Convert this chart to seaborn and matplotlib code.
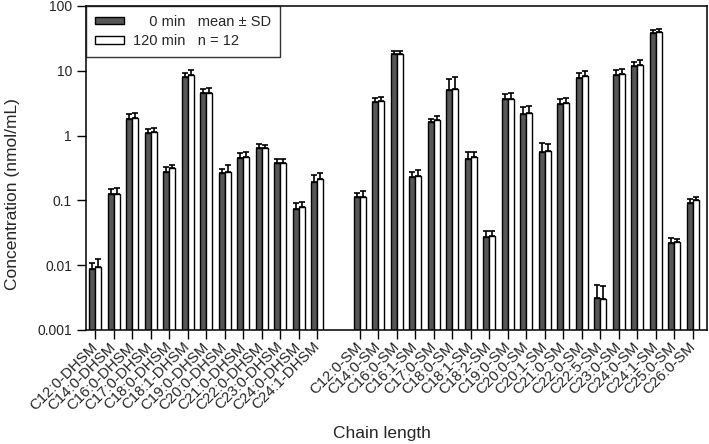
"""Sphingomyelin / dihydrosphingomyelin species at 0 and 120 min."""

import matplotlib.pyplot as plt
import numpy as np
import pandas as pd
import seaborn as sns
from matplotlib.patches import Patch

DHSM_SPECIES = ["C12:0", "C14:0", "C16:0", "C17:0", "C18:0", "C18:1", "C19:0",
                "C20:0", "C21:0", "C22:0", "C23:0", "C24:0", "C24:1"]
SM_SPECIES = ["C12:0", "C14:0", "C16:0", "C16:1", "C17:0", "C18:0", "C18:1",
              "C18:2", "C19:0", "C20:0", "C20:1", "C21:0", "C22:0", "C22:5",
              "C23:0", "C24:0", "C24:1", "C25:0", "C26:0"]

# mean and SD, nmol/mL
DHSM_MEAN_0 = [0.0087, 0.124, 1.82, 1.08, 0.274, 8.1, 4.5, 0.268, 0.451, 0.637, 0.382, 0.0737, 0.195]
DHSM_SD_0 = [0.0023, 0.028, 0.36, 0.20, 0.053, 1.25, 0.74, 0.040, 0.082, 0.093, 0.058, 0.016, 0.052]
DHSM_MEAN_120 = [0.0093, 0.126, 1.86, 1.12, 0.313, 8.7, 4.6, 0.27, 0.47, 0.637, 0.378, 0.080, 0.216]
DHSM_SD_120 = [0.0030, 0.031, 0.40, 0.21, 0.037, 1.6, 0.8, 0.086, 0.09, 0.083, 0.059, 0.013, 0.049]

SM_MEAN_0 = [0.112, 3.26, 18.4, 0.23, 1.6, 5.06, 0.44, 0.0275, 3.67, 2.18, 0.565, 3.04, 7.83,
             0.00308, 8.7, 11.7, 37.8, 0.0217, 0.091]
SM_SD_0 = [0.019, 0.59, 2.0, 0.044, 0.2, 2.41, 0.11, 0.0062, 0.66, 0.55, 0.195, 0.59, 1.32,
           0.0019, 1.7, 1.8, 4.4, 0.0049, 0.013]
SM_MEAN_120 = [0.114, 3.42, 18.4, 0.238, 1.74, 5.24, 0.462, 0.028, 3.67, 2.26, 0.58, 3.19, 8.2,
               0.0030, 9.0, 12.3, 39.2, 0.0224, 0.100]
SM_SD_120 = [0.024, 0.58, 1.8, 0.052, 0.29, 2.7, 0.088, 0.0057, 0.88, 0.58, 0.16, 0.66, 1.6,
             0.0017, 1.8, 2.2, 4.4, 0.0033, 0.014]

TIMES = ["0 min", "120 min"]

sns.set_style("ticks")
plt.rcParams["font.family"] = ["Liberation Sans", "DejaVu Sans"]

labels = [s + "-DHSM" for s in DHSM_SPECIES] + [s + "-SM" for s in SM_SPECIES]
pos = np.r_[np.arange(len(DHSM_SPECIES)), np.arange(len(SM_SPECIES)) + len(DHSM_SPECIES) + 1.3]

means = {TIMES[0]: DHSM_MEAN_0 + SM_MEAN_0, TIMES[1]: DHSM_MEAN_120 + SM_MEAN_120}
sds = {TIMES[0]: DHSM_SD_0 + SM_SD_0, TIMES[1]: DHSM_SD_120 + SM_SD_120}

df = pd.concat(
    [pd.DataFrame({"pos": pos, "species": labels, "time": t, "conc": means[t]}) for t in TIMES],
    ignore_index=True,
)

fig, ax = plt.subplots(figsize=(7.09, 4.44), dpi=100)
fig.subplots_adjust(left=0.1213, right=0.9967, top=0.9865, bottom=0.2568)

colors = ["#575757", "white"]
sns.barplot(
    data=df, x="pos", y="conc", hue="time", hue_order=TIMES,
    native_scale=True, palette=colors, width=0.66, errorbar=None,
    edgecolor="black", linewidth=1.0, legend=False, ax=ax,
)

# upper SD whiskers
for cont, t in zip(ax.containers, TIMES):
    bars = sorted(cont, key=lambda b: b.get_x())
    xs = [b.get_x() + b.get_width() / 2 for b in bars]
    ax.errorbar(xs, means[t], yerr=[np.zeros(len(xs)), sds[t]], fmt="none",
                ecolor="black", elinewidth=1.2, capsize=2, capthick=1.2, zorder=5)

ax.set_yscale("log")
ax.set_ylim(0.001, 100)
ax.set_yticks([0.001, 0.01, 0.1, 1, 10, 100])
ax.set_yticklabels(["0.001", "0.01", "0.1", "1", "10", "100"])
ax.yaxis.set_minor_locator(plt.NullLocator())
ax.set_xlim(-0.5, pos[-1] + 0.75)
ax.set_xticks(pos)
ax.set_xticklabels(labels, rotation=45, ha="right", va="center", rotation_mode="anchor")

ax.tick_params(axis="both", direction="out", length=6.5, width=1, color="black")
ax.tick_params(axis="y", labelsize=10)
ax.tick_params(axis="x", labelsize=10.8, pad=4)
for sp in ax.spines.values():
    sp.set_linewidth(1.1)
    sp.set_color("black")

ax.set_xlabel("Chain length", fontsize=12.5)
ax.set_ylabel("Concentration (nmol/mL)", fontsize=12.5)
ax.xaxis.set_label_coords(0.477, -0.295)
ax.yaxis.set_label_coords(-0.106, 0.42)

handles = [Patch(facecolor=colors[0], edgecolor="black"),
           Patch(facecolor=colors[1], edgecolor="black")]
leg = ax.legend(handles, ["\u2007\u20070 min   mean \u00b1 SD", "120 min   n = 12"],
                loc="upper left", bbox_to_anchor=(0, 1), borderaxespad=0,
                frameon=True, fancybox=False, fontsize=10.5, handlelength=2.0,
                handleheight=0.45, handletextpad=0.6, borderpad=0.6, labelspacing=0.35)
leg.get_frame().set_edgecolor("black")
leg.get_frame().set_linewidth(1.0)

plt.savefig("out.png", dpi=100)
